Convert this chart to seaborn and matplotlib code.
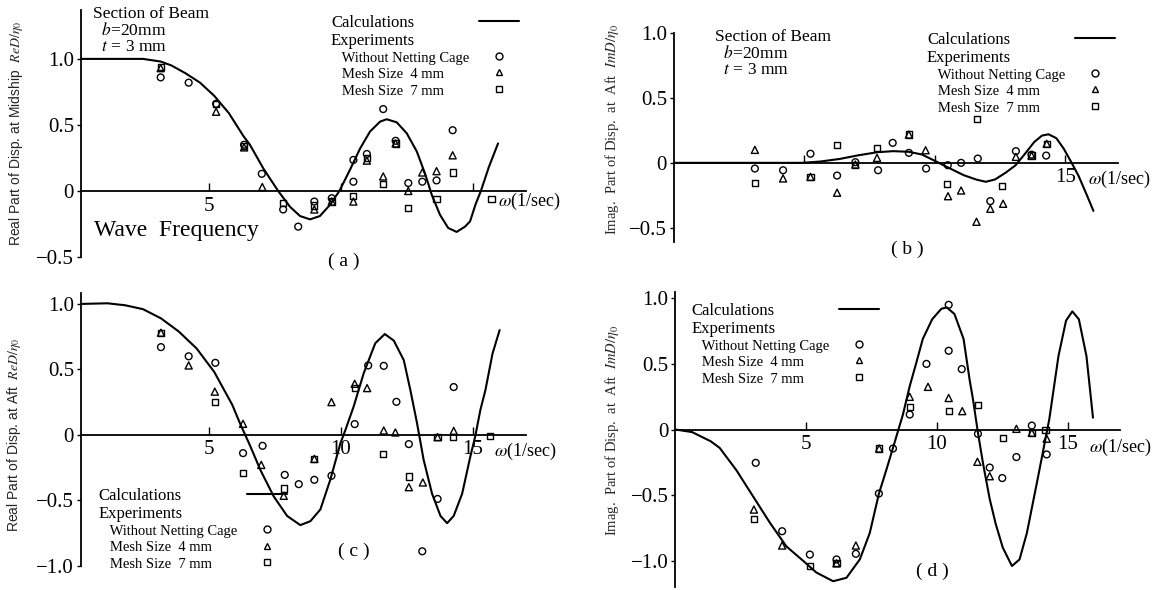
import matplotlib
matplotlib.use("Agg")
import matplotlib.pyplot as plt
from matplotlib.lines import Line2D
import seaborn as sns

# (a) real part of displacement at midship
a_calc_w = [0.15, 1.5, 2.5, 3.17, 3.58, 4.12, 4.66, 5.2, 5.75, 6.29, 6.55, 7.06, 7.62, 8.07,
            8.45, 8.83, 9.2, 9.58, 9.94, 10.34, 10.72, 11.1, 11.48, 11.73, 12.11, 12.49,
            12.87, 13.18, 13.44, 13.75, 14.06, 14.38, 14.7, 14.89, 15.1, 15.3, 15.6, 15.95]
a_calc_d = [1.0, 1.0, 1.0, 0.98, 0.95, 0.89, 0.82, 0.72, 0.59, 0.42, 0.35, 0.17, 0.0, -0.12,
            -0.19, -0.215, -0.19, -0.106, 0.0, 0.16, 0.32, 0.45, 0.525, 0.543, 0.52, 0.437,
            0.30, 0.134, -0.03, -0.18, -0.28, -0.31, -0.27, -0.23, -0.10, 0.0, 0.18, 0.36]
a_ring_w = [3.17, 4.23, 5.27, 6.33, 7.0, 7.81, 8.38, 8.99, 9.65, 10.47, 10.47, 10.98, 11.6,
            12.07, 12.55, 13.08, 13.62, 14.23]
a_ring_d = [0.86, 0.82, 0.66, 0.35, 0.13, -0.14, -0.27, -0.08, -0.055, 0.235, 0.07, 0.28, 0.62,
            0.38, 0.06, 0.07, 0.08, 0.46]
a_tri_w = [3.17, 5.27, 6.33, 7.02, 8.99, 9.65, 10.47, 10.98, 11.6, 12.07, 12.55, 13.08, 13.62, 14.23]
a_tri_d = [0.93, 0.60, 0.33, 0.03, -0.14, -0.08, -0.08, 0.23, 0.11, 0.36, 0.0, 0.14, 0.15, 0.27]
a_sq_w = [3.17, 5.27, 6.33, 7.81, 8.99, 9.65, 10.47, 10.98, 11.6, 12.07, 12.55, 13.62, 14.23, 15.7]
a_sq_d = [0.94, 0.66, 0.34, -0.09, -0.11, -0.08, -0.04, 0.25, 0.05, 0.36, -0.13, -0.06, 0.14, -0.06]

# (b) imaginary part at aft
b_calc_w = [0.0, 4.9, 5.6, 6.35, 7.06, 7.8, 8.4, 9.0, 9.5, 10.0, 10.5, 11.1, 11.6, 11.95, 12.3,
            12.7, 13.08, 13.45, 13.8, 14.1, 14.35, 14.65, 14.93, 15.2, 15.5, 15.8, 16.07]
b_calc_d = [0.0, 0.0, 0.01, 0.03, 0.058, 0.082, 0.09, 0.085, 0.064, 0.015, -0.036, -0.095, -0.13,
            -0.146, -0.128, -0.077, -0.02, 0.07, 0.16, 0.21, 0.22, 0.19, 0.11, 0.013, -0.10,
            -0.24, -0.37]
b_ring_w = [3.1, 4.18, 5.23, 6.25, 6.95, 7.82, 8.38, 9.0, 9.66, 10.49, 11.0, 11.64, 12.12, 13.1,
            13.7, 14.26]
b_ring_d = [-0.044, -0.057, 0.07, -0.098, 0.005, -0.057, 0.154, 0.077, -0.044, -0.018, 0.0,
            0.033, -0.295, 0.09, 0.063, 0.056]
b_tri_w = [3.1, 4.18, 5.23, 6.25, 6.95, 7.78, 9.0, 9.64, 10.5, 11.0, 11.59, 12.12, 12.61, 13.1,
           13.7, 14.28]
b_tri_d = [0.10, -0.12, -0.108, -0.23, -0.013, 0.038, 0.218, 0.097, -0.257, -0.213, -0.454,
           -0.354, -0.315, 0.046, 0.056, 0.147]
b_sq_w = [3.1, 5.23, 6.25, 6.95, 7.78, 9.0, 10.47, 11.61, 12.57, 13.7, 14.28]
b_sq_d = [-0.154, -0.108, 0.135, -0.015, 0.115, 0.218, -0.16, 0.338, -0.18, 0.056, 0.147]

# (c) real part at aft
c_calc_w = [0.15, 1.15, 1.82, 2.5, 3.18, 3.85, 4.53, 5.2, 5.88, 6.19, 6.55, 6.95, 7.45, 7.96,
            8.46, 8.84, 9.22, 9.6, 9.98, 10.17, 10.48, 10.86, 11.05, 11.3, 11.66, 12.0, 12.38,
            12.63, 12.88, 13.13, 13.45, 13.77, 14.02, 14.27, 14.59, 14.9, 15.09, 15.28, 15.47,
            15.74, 16.01]
c_calc_d = [1.0, 1.005, 0.99, 0.96, 0.89, 0.79, 0.66, 0.48, 0.23, 0.08, -0.08, -0.27, -0.47,
            -0.62, -0.69, -0.66, -0.57, -0.34, -0.064, 0.038, 0.216, 0.47, 0.57, 0.70, 0.77,
            0.72, 0.57, 0.34, 0.09, -0.19, -0.45, -0.62, -0.675, -0.62, -0.45, -0.166, -0.008,
            0.19, 0.34, 0.62, 0.80]
c_ring_w = [3.18, 4.23, 5.24, 6.29, 7.03, 7.87, 8.4, 8.99, 9.64, 10.52, 11.03, 11.62, 12.1,
            12.57, 13.08, 13.66, 14.27]
c_ring_d = [0.67, 0.60, 0.55, -0.14, -0.084, -0.306, -0.377, -0.344, -0.313, 0.082, 0.53, 0.527,
            0.252, -0.071, -0.89, -0.49, 0.365]
c_tri_w = [3.18, 4.23, 5.22, 6.29, 6.98, 7.83, 8.99, 9.64, 10.52, 10.99, 11.62, 12.06, 12.57,
           13.1, 13.66, 14.27]
c_tri_d = [0.78, 0.53, 0.33, 0.084, -0.23, -0.466, -0.184, 0.25, 0.39, 0.357, 0.033, 0.018,
           -0.40, -0.364, -0.018, 0.03]
c_sq_w = [3.18, 5.22, 6.29, 7.83, 8.99, 10.52, 11.6, 12.57, 13.66, 14.23, 15.66]
c_sq_d = [0.78, 0.25, -0.29, -0.41, -0.184, 0.36, -0.145, -0.319, -0.018, -0.018, -0.01]

# (d) imaginary part at aft
d_calc_w = [0.0, 0.64, 1.35, 1.69, 2.33, 2.97, 3.61, 4.24, 4.88, 5.39, 6.03, 6.54, 7.05, 7.43,
            7.78, 8.07, 8.32, 8.51, 8.7, 8.96, 9.2, 9.46, 9.82, 10.17, 10.38, 10.67, 11.02,
            11.25, 11.38, 11.57, 11.76, 12.02, 12.25, 12.52, 12.87, 13.16, 13.44, 13.87, 14.3,
            14.65, 14.94, 15.18, 15.43, 15.72, 15.97]
d_calc_d = [0.0, -0.02, -0.09, -0.14, -0.31, -0.51, -0.71, -0.89, -1.0, -1.09, -1.156, -1.13,
            -0.99, -0.79, -0.49, -0.305, -0.14, -0.013, 0.114, 0.33, 0.50, 0.69, 0.84, 0.92,
            0.93, 0.88, 0.69, 0.38, 0.23, -0.025, -0.254, -0.53, -0.72, -0.90, -1.04, -0.99,
            -0.79, -0.36, 0.08, 0.56, 0.83, 0.90, 0.84, 0.56, 0.09]
d_ring_w = [3.07, 4.08, 5.14, 6.16, 6.9, 7.78, 8.32, 8.96, 9.6, 10.45, 10.45, 10.95, 11.57,
            12.02, 12.5, 13.04, 13.63, 14.2]
d_ring_d = [-0.254, -0.775, -0.953, -0.99, -0.947, -0.488, -0.145, 0.114, 0.50, 0.95, 0.60,
            0.46, -0.033, -0.29, -0.37, -0.21, 0.03, -0.19]
d_tri_w = [3.0, 4.08, 6.16, 6.9, 7.79, 8.96, 9.66, 10.45, 10.97, 11.55, 12.02, 13.04, 13.63, 14.2]
d_tri_d = [-0.61, -0.884, -1.02, -0.884, -0.145, 0.249, 0.325, 0.24, 0.14, -0.246, -0.356,
           0.005, -0.025, -0.07]
d_sq_w = [3.0, 5.14, 6.16, 7.79, 8.96, 10.45, 11.57, 12.53, 13.63, 14.15]
d_sq_d = [-0.68, -1.04, -1.02, -0.145, 0.17, 0.14, 0.185, -0.064, -0.025, -0.005]

key_labels = ["Calculations", "Experiments", "   Without Netting Cage",
              "   Mesh Size  4 mm", "   Mesh Size  7 mm"]

sns.set_theme(style="ticks")
plt.rcParams["font.family"] = ["Liberation Serif", "DejaVu Serif"]
plt.rcParams["mathtext.fontset"] = "stix"
plt.rcParams["axes.edgecolor"] = "black"
plt.rcParams["xtick.color"] = "black"
plt.rcParams["ytick.color"] = "black"
plt.rcParams["text.color"] = "black"

fig = plt.figure(figsize=(11.65, 5.9), dpi=100)
SANS = ["Liberation Sans Narrow", "Liberation Sans", "DejaVu Sans"]


def panel(rect, xlim, ylim, yticks, xlabels):
    ax = fig.add_axes(rect)
    ax.set_facecolor("none")
    ax.set_xlim(*xlim)
    ax.set_ylim(*ylim)
    ax.spines["top"].set_visible(False)
    ax.spines["right"].set_visible(False)
    ax.spines["bottom"].set_position(("data", 0))
    for s in ("left", "bottom"):
        ax.spines[s].set_linewidth(1.3)
    ax.set_xticks([5, 10, 15], xlabels)
    ylabels = ["0" if v == 0 else f"{v:.1f}".replace("-", "\u2212") for v in yticks]
    ax.set_yticks(yticks, ylabels)
    ax.tick_params(axis="x", direction="in", length=6, width=1, pad=4, labelsize=15)
    ax.tick_params(axis="y", direction="out", length=3, width=1, pad=2, labelsize=15)
    return ax


def draw(ax, cw, cd, rings, tris, sqs):
    sns.lineplot(x=cw, y=cd, color="black", linewidth=1.5, sort=False, estimator=None, ax=ax)
    for (w, d), m, s in zip([rings, tris, sqs], ["o", "^", "s"], [24, 26, 20]):
        sns.scatterplot(x=w, y=d, marker=m, s=s, facecolor="none", edgecolor="black",
                        linewidth=1.0, ax=ax, zorder=3, clip_on=False)


def key(ax, anchor):
    mk = dict(ls="", mfc="none", mec="black", mew=1.0)
    handles = [Line2D([], [], color="black", lw=1.5),
               Line2D([], [], ls="", marker=""),
               Line2D([], [], marker="o", ms=5, **mk),
               Line2D([], [], marker="^", ms=5, **mk),
               Line2D([], [], marker="s", ms=4.5, **mk)]
    leg = ax.legend(handles, key_labels, loc="upper left", bbox_to_anchor=anchor,
                    frameon=False, markerfirst=False, fontsize=12, handlelength=2.4,
                    handletextpad=0.6, labelspacing=0.1, borderpad=0, borderaxespad=0)
    for t in leg.get_texts()[2:]:
        t.set_fontsize(10.5)
    return leg


def ylab(ax, text, x, y, size, family):
    ax.set_ylabel(text, fontsize=size, family=family)
    ax.yaxis.set_label_coords(x, y)
    ax.yaxis.label.set_va("center")


omega = r"$\omega$(1/sec)"
legends = []

# (a)
ax = panel([0.0695, 0.5644, 0.3818, 0.4186], (0.15, 17), (-0.5, 1.37),
           [1.0, 0.5, 0, -0.5], ["5", "", ""])
draw(ax, a_calc_w, a_calc_d, (a_ring_w, a_ring_d), (a_tri_w, a_tri_d), (a_sq_w, a_sq_d))
ylab(ax, r"Real Part of Disp. at Midship  $ReD/\eta_0$", -0.146, 0.50, 10, SANS)
ax.text(0.6, 1.40, "Section of Beam\n  $b$=20mm\n  $t$ = 3 mm", fontsize=12.5,
        va="top", ha="left", linespacing=1.0)
ax.text(0.63, -0.30, "Wave  Frequency", fontsize=17, va="center", ha="left")
ax.text(10.1, -0.53, "( a )", fontsize=14, va="center", ha="center", clip_on=False)
ax.text(15.95, -0.08, omega, fontsize=13, va="center", ha="left", clip_on=False)
legends.append(key(ax, (0.562, 0.98)))

# (b)
ax = panel([0.5785, 0.5898, 0.3809, 0.3542], (0, 17), (-0.61, 1.0),
           [1.0, 0.5, 0, -0.5], ["", "", "15"])
draw(ax, b_calc_w, b_calc_d, (b_ring_w, b_ring_d), (b_tri_w, b_tri_d), (b_sq_w, b_sq_d))
ylab(ax, r"Imag.  Part of Disp.  at  Aft  $ImD/\eta_0$", -0.140, 0.54, 10.5, None)
ax.text(1.57, 1.03, "Section of Beam\n  $b$=20mm\n  $t$ = 3 mm", fontsize=12.5,
        va="top", ha="left", linespacing=1.0)
ax.text(8.93, -0.67, "( b )", fontsize=14, va="center", ha="center", clip_on=False)
ax.text(15.86, -0.13, omega, fontsize=13, va="center", ha="left", clip_on=False)
legends.append(key(ax, (0.570, 1.005)))

# (c)
ax = panel([0.0695, 0.0412, 0.3818, 0.4614], (0.15, 17), (-1.0, 1.08),
           [1.0, 0.5, 0, -0.5, -1.0], ["5", "10", "15"])
draw(ax, c_calc_w, c_calc_d, (c_ring_w, c_ring_d), (c_tri_w, c_tri_d), (c_sq_w, c_sq_d))
ylab(ax, r"Real Part of Disp. at Aft  $ReD/\eta_0$", -0.150, 0.48, 10, SANS)
ax.text(10.47, -0.89, "( c )", fontsize=14, va="center", ha="center", clip_on=False)
ax.text(15.8, -0.128, omega, fontsize=13, va="center", ha="left", clip_on=False)
legends.append(key(ax, (0.04, 0.285)))

# (d)
ax = panel([0.5798, 0.0051, 0.3815, 0.5005], (0, 17), (-1.2, 1.05),
           [1.0, 0.5, 0, -0.5, -1.0], ["5", "10", "15"])
draw(ax, d_calc_w, d_calc_d, (d_ring_w, d_ring_d), (d_tri_w, d_tri_d), (d_sq_w, d_sq_d))
ylab(ax, r"Imag.  Part of Disp.  at  Aft  $ImD/\eta_0$", -0.1435, 0.53, 10.5, None)
ax.text(9.84, -1.08, "( d )", fontsize=14, va="center", ha="center", clip_on=False)
ax.text(15.8, -0.14, omega, fontsize=13, va="center", ha="left", clip_on=False)
legends.append(key(ax, (0.035, 0.962)))

# keep legend texts left-aligned while the keys line up on the right
fig.canvas.draw()
renderer = fig.canvas.get_renderer()
for leg in legends:
    col = leg._legend_handle_box.get_children()[0]
    col.align = "left"
    rows = col.get_children()
    widths = [row.get_children()[0].get_window_extent(renderer).width for row in rows]
    for row, w in zip(rows, widths):
        row.sep += (max(widths) - w) * 72 / fig.dpi

fig.savefig("out.png", dpi=100)
